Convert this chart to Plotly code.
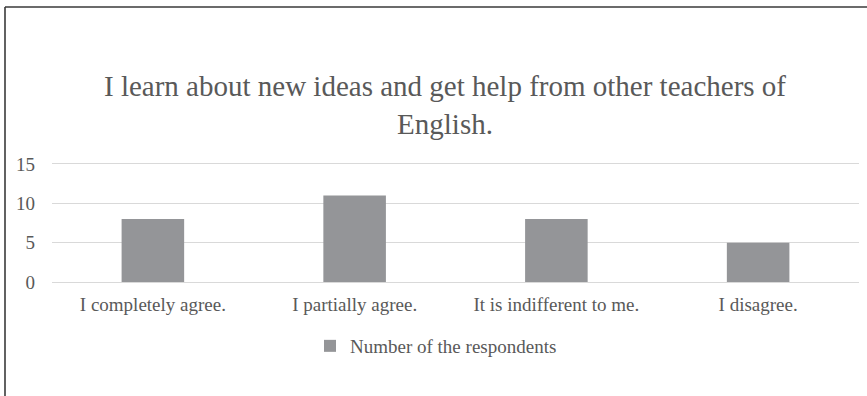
import plotly.graph_objects as go

categories = ["I completely agree.", "I partially agree.", "It is indifferent to me.", "I disagree."]
values = [8, 11, 8, 5]
series_name = "Number of the respondents"
title_text = "I learn about new ideas and get help from other teachers of<br>English."
y_ticks = [0, 5, 10, 15]

W, H = 867, 396
L, R, T, B = 52, 8, 162, 112
pw, ph = W - L - R, H - T - B

def px_x(x):
    return (x - L) / pw

def px_y(y):
    return (H - B - y) / ph

grey_text = "#595959"
font_family = "Liberation Serif, Times New Roman, serif"

fig = go.Figure()
fig.add_trace(go.Bar(
    x=categories, y=values, name=series_name,
    marker=dict(color="#949598", line=dict(width=0)),
    width=0.31, showlegend=True,
))

fig.update_layout(
    width=W, height=H,
    margin=dict(l=L, r=R, t=T, b=B, autoexpand=False),
    paper_bgcolor="white", plot_bgcolor="white",
    font=dict(family=font_family, color=grey_text, size=19),
    title=dict(
        text=title_text, x=445 / W, xanchor="center",
        y=1 - 96 / H, yanchor="top", yref="container",
        font=dict(size=29, color=grey_text, family=font_family),
    ),
    showlegend=True,
    legend=dict(
        orientation="h", x=px_x(436), xanchor="center",
        y=px_y(346), yanchor="middle", itemwidth=30,
        font=dict(size=19, color=grey_text),
        bgcolor="rgba(0,0,0,0)",
    ),
    xaxis=dict(
        showgrid=False, showline=False, zeroline=False, automargin=False,
        tickfont=dict(size=19, color=grey_text),
        ticks="", ticklabelstandoff=7,
    ),
    yaxis=dict(
        range=[-0.25, 15.25], tickvals=y_ticks, showgrid=True, automargin=False,
        gridcolor="#d9d9d9", gridwidth=1.3, zeroline=False,
        showline=False, ticks="", ticklabelstandoff=16,
        tickfont=dict(size=19, color=grey_text),
    ),
    shapes=[
        dict(type="line", xref="paper", yref="paper",
             x0=px_x(5), x1=px_x(W + 2), y0=px_y(7), y1=px_y(7),
             line=dict(color="#3a3a3a", width=1.6)),
        dict(type="line", xref="paper", yref="paper",
             x0=px_x(5), x1=px_x(5), y0=px_y(7), y1=px_y(H + 2),
             line=dict(color="#3a3a3a", width=1.6)),
    ],
)

fig.write_html("out.html", config={"displayModeBar": False},
               post_script="document.body.style.margin='0';")
